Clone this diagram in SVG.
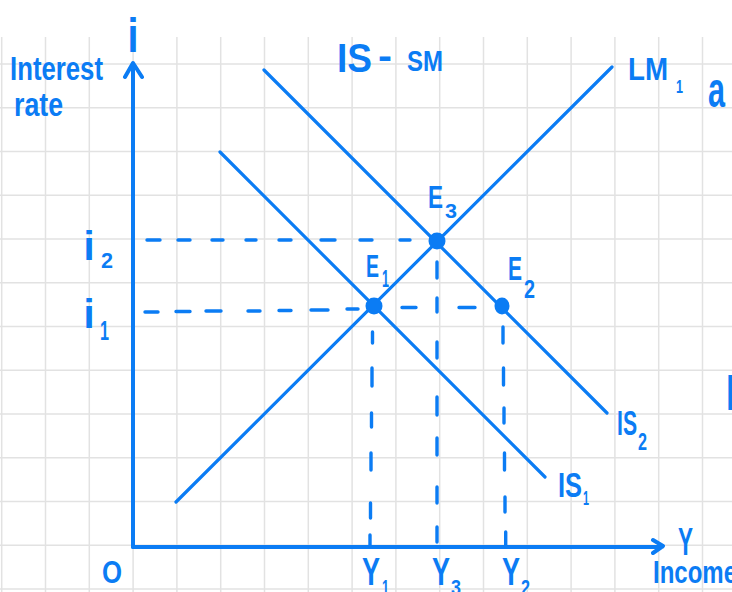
<svg xmlns="http://www.w3.org/2000/svg" width="732" height="592" viewBox="0 0 732 592">
<style>
.grid{stroke:#e2e2e2;stroke-width:1.5;fill:none}
.ax{stroke:#0b7cf4;stroke-width:4;fill:none;stroke-linecap:round;stroke-linejoin:round}
.cur{stroke:#0b7cf4;stroke-width:3.2;fill:none;stroke-linecap:round}
.dash{stroke:#0b7cf4;stroke-width:3.4;fill:none;stroke-linecap:round}
.dot{fill:#0b7cf4}
text{fill:#0b7cf4;font-family:"Liberation Sans","DejaVu Sans",sans-serif;font-weight:bold}
</style>
<rect width="732" height="592" fill="#ffffff"/>
<g id="grid">
<path class="grid" d="M1.7 37V592M45.5 37V592M89.3 37V592M133.1 37V592M176.9 37V592M220.7 37V592M264.5 37V592M308.3 37V592M352.1 37V592M395.9 37V592M439.7 37V592M483.5 37V592M527.3 37V592M571.1 37V592M614.9 37V592M658.7 37V592M702.5 37V592"/>
<path class="grid" d="M0 64H732M0 107.75H732M0 151.5H732M0 195.25H732M0 239H732M0 282.75H732M0 326.5H732M0 370.25H732M0 414H732M0 457.75H732M0 501.5H732M0 545.25H732M0 589H732"/>
</g>
<g id="axes">
<path class="ax" d="M133 547V64M125 77L133 63L142 77"/>
<path class="ax" d="M133 547H662M653 540L663 546L653 553"/>
<text x="133" y="52" font-size="48" text-anchor="middle" textLength="11" lengthAdjust="spacingAndGlyphs">i</text>
<text x="10" y="80" font-size="34" textLength="93" lengthAdjust="spacingAndGlyphs">Interest</text>
<text x="14" y="116" font-size="33" textLength="49" lengthAdjust="spacingAndGlyphs">rate</text>
<text x="678" y="555" font-size="38" textLength="15" lengthAdjust="spacingAndGlyphs">Y</text>
<text x="653" y="583" font-size="32" textLength="84" lengthAdjust="spacingAndGlyphs">Income</text>
<text x="102" y="583" font-size="32" textLength="20" lengthAdjust="spacingAndGlyphs">O</text>
</g>
<g id="title">
<text x="337" y="72" font-size="40" textLength="35" lengthAdjust="spacingAndGlyphs">IS</text>
<text x="378" y="68" font-size="36" textLength="14" lengthAdjust="spacingAndGlyphs">-</text>
<text x="407" y="71" font-size="29" textLength="36" lengthAdjust="spacingAndGlyphs">SM</text>
</g>
<g id="connectors">
<line class="cur" x1="176" y1="502" x2="612" y2="67"/>
<line class="cur" x1="264" y1="70" x2="607" y2="413"/>
<line class="cur" x1="220" y1="152" x2="545" y2="477"/>
<path class="dash" d="M147 240H160M178 240H190M212 240H223M246 240H256M279 240H291M321 240H335M360 240H372M400 240H410"/>
<path class="dash" d="M145 312H158M176 311.5H190M206 311H221M248 311H260M279 310.5H291M311 310H328M347 309H358M402 307.5H416M459 307.5H475"/>
<path class="dash" d="M372.5 332V343M372 368V386M371.5 413V427M371 453V470M370.5 503V518M370 535V546"/>
<path class="dash" d="M437 262V278M437 298V312M437 342V358M437 397V415M437 438V455M437 487V503M437 527V542"/>
<path class="dash" d="M503 327V343M503.5 368V385M504 408V423M504.5 453V470M505 497V512M505.7 532V546"/>
</g>
<g id="E1">
<circle class="dot" cx="374" cy="306" r="8.5"/>
<text x="366" y="277" font-size="31" textLength="13" lengthAdjust="spacingAndGlyphs">E</text>
<text x="382" y="287" font-size="24" textLength="7" lengthAdjust="spacingAndGlyphs">1</text>
</g>
<g id="E2">
<ellipse class="dot" cx="502" cy="306" rx="7.5" ry="8.5"/>
<text x="508" y="280" font-size="33" textLength="14" lengthAdjust="spacingAndGlyphs">E</text>
<text x="524" y="298" font-size="26" textLength="11" lengthAdjust="spacingAndGlyphs">2</text>
</g>
<g id="E3">
<circle class="dot" cx="437" cy="241" r="8.5"/>
<text x="428" y="208" font-size="32" textLength="15" lengthAdjust="spacingAndGlyphs">E</text>
<text x="445" y="218" font-size="21" textLength="12" lengthAdjust="spacingAndGlyphs">3</text>
</g>
<g id="curve-labels">
<text x="628" y="80" font-size="32" textLength="40" lengthAdjust="spacingAndGlyphs">LM</text>
<text x="676" y="93" font-size="19" textLength="7" lengthAdjust="spacingAndGlyphs">1</text>
<text x="617" y="435" font-size="35" textLength="20" lengthAdjust="spacingAndGlyphs">IS</text>
<text x="638" y="450" font-size="24" textLength="9" lengthAdjust="spacingAndGlyphs">2</text>
<text x="558" y="497" font-size="35" textLength="24" lengthAdjust="spacingAndGlyphs">IS</text>
<text x="583" y="505" font-size="20" textLength="6" lengthAdjust="spacingAndGlyphs">1</text>
</g>
<g id="axis-labels">
<text x="89" y="260" font-size="40" text-anchor="middle">i</text>
<text x="101" y="268" font-size="22" textLength="12" lengthAdjust="spacingAndGlyphs">2</text>
<text x="89" y="328" font-size="40" text-anchor="middle">i</text>
<text x="100" y="340" font-size="28" textLength="9" lengthAdjust="spacingAndGlyphs">1</text>
<text x="362" y="585" font-size="38" textLength="18" lengthAdjust="spacingAndGlyphs">Y</text>
<text x="382" y="595" font-size="22" textLength="7" lengthAdjust="spacingAndGlyphs">1</text>
<text x="432" y="585" font-size="38" textLength="18" lengthAdjust="spacingAndGlyphs">Y</text>
<text x="451" y="595" font-size="22" textLength="10" lengthAdjust="spacingAndGlyphs">3</text>
<text x="502" y="585" font-size="38" textLength="18" lengthAdjust="spacingAndGlyphs">Y</text>
<text x="521" y="595" font-size="22" textLength="9" lengthAdjust="spacingAndGlyphs">2</text>
</g>
<g id="edge-marks">
<text x="708" y="107" font-size="50" textLength="17" lengthAdjust="spacingAndGlyphs">a</text>
<text x="725" y="410" font-size="48">l</text>
</g>
</svg>
